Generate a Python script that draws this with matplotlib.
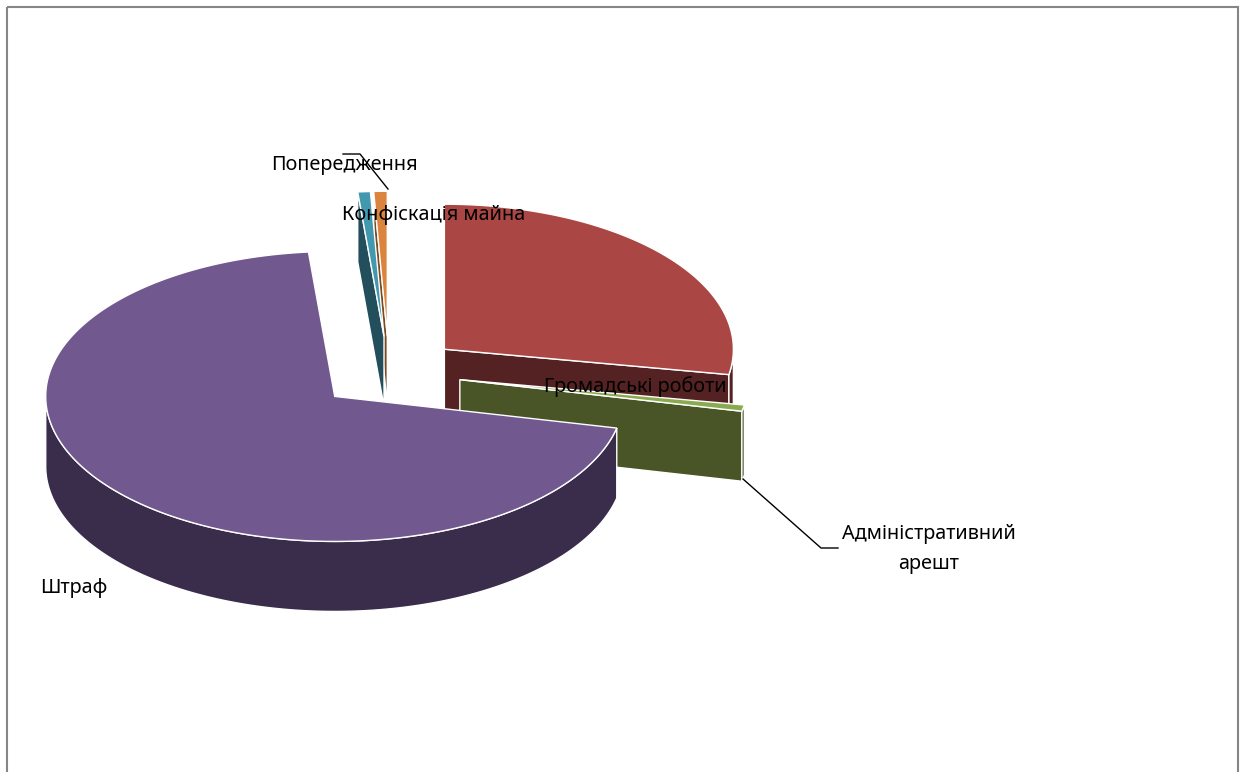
import numpy as np
import matplotlib
matplotlib.use("Agg")
import matplotlib.pyplot as plt
from matplotlib.patches import Polygon, Rectangle

# Values (share in %), clockwise from 12 o'clock
categories = ['Громадські роботи', 'Адміністративний\nарешт', 'Штраф', 'Конфіскація майна', 'Попередження']
values = [27.8, 0.7, 70.05, 0.7, 0.75]
top_colors = ['#aa4644', '#8aaa4f', '#71588f', '#4198af', '#db843d']
side_colors = ['#542222', '#4a5527', '#3a2c4b', '#234e5c', '#7a4a20']
draw_order = [0, 1, 4, 3, 2]

# Projection of the tilted pie, in pixels
CX, CY = 389, 372.5
RX, RY = 289, 145
DEPTH = 70
EXPLODE = 0.25

plt.rcParams['font.family'] = ['Noto Sans', 'DejaVu Sans']

fig = plt.figure(figsize=(12.4, 7.72), dpi=100)
ax = fig.add_axes([0, 0, 1, 1])
ax.set_xlim(0, 1240)
ax.set_ylim(772, 0)
ax.axis('off')


def rim(apex, a, b):
    t = np.radians(np.linspace(a, b, max(int(abs(b - a)) * 2, 2)))
    return np.column_stack([apex[0] + RX * np.sin(t), apex[1] - RY * np.cos(t)])


def face(points, color, z):
    ax.add_patch(Polygon(points, closed=True, facecolor=color, edgecolor='white', linewidth=1, zorder=z))


# Slices
edges = np.cumsum([0] + values) / sum(values) * 360
for n, i in enumerate(draw_order):
    a, b = edges[i], edges[i + 1]
    mid = np.radians((a + b) / 2)
    apex = (CX + EXPLODE * RX * np.sin(mid), CY - EXPLODE * RY * np.cos(mid))
    z = 2 + n
    down = np.array([0, DEPTH])

    # radial cut faces that look towards the viewer
    for angle, visible in ((a, a > 180), (b, b < 180)):
        if visible:
            p = rim(apex, angle, angle)[0]
            face([apex, p, p + down, np.array(apex) + down], side_colors[i], z)

    # outer wall, front half only
    w0, w1 = max(a, 90), min(b, 270)
    if w0 < w1:
        arc = rim(apex, w0, w1)
        face(np.vstack([arc, arc[::-1] + down]), side_colors[i], z)

    # top face
    face(np.vstack([[apex], rim(apex, a, b)]), top_colors[i], z)

# Leader lines
ax.plot([343, 360, 388], [154, 154, 189], color='black', lw=1, zorder=10)
ax.plot([743, 821, 838], [479, 548, 548], color='black', lw=1, zorder=10)

# Labels
label_xy = [(635.5, 387), (929, 549), (74, 588), (433.5, 215), (344.5, 165)]
for name, (x, y) in zip(categories, label_xy):
    ax.text(x, y, name, ha='center', va='center', fontsize=14.3, color='black',
            linespacing=1.62, zorder=11)

# Chart border, its bottom edge falls off the picture
ax.add_patch(Rectangle((7, 7), 1231, 800, fill=False, edgecolor='#868686', linewidth=1.5, zorder=1))

fig.savefig("out.png", dpi=100)
plt.close(fig)
